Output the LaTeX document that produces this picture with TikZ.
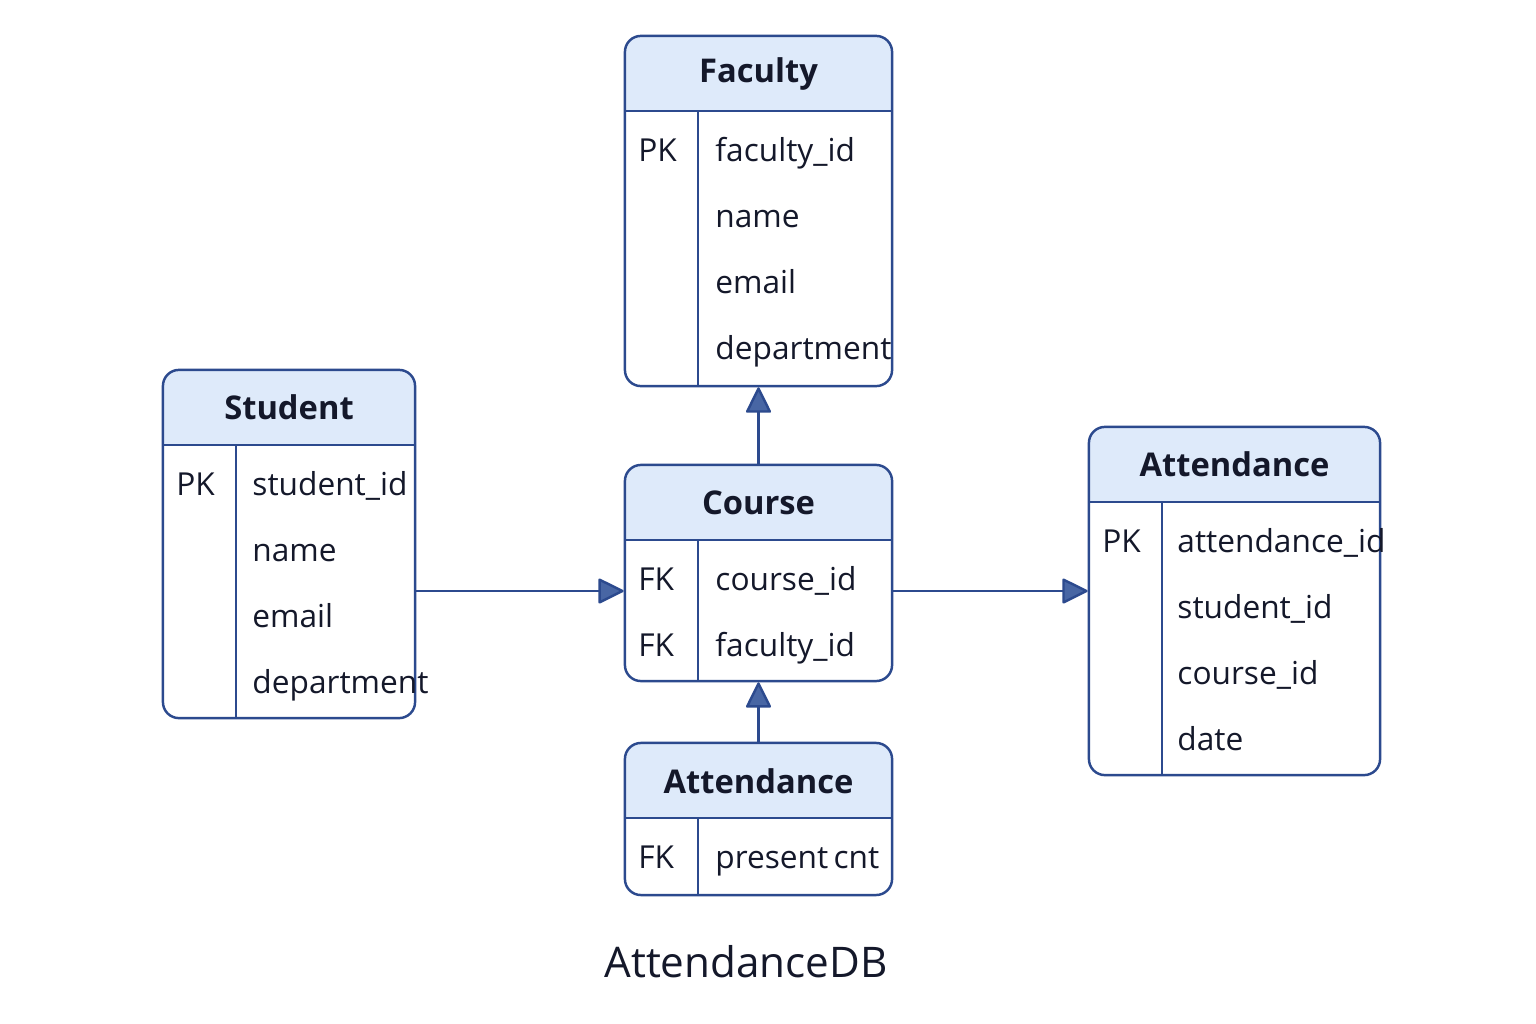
\documentclass[tikz,border=0pt]{standalone}
\usepackage{fontspec}
\setmainfont{Open Sans}
\usetikzlibrary{arrows.meta, positioning, calc}
\definecolor{entityblue}{RGB}{44,74,142}
\definecolor{headerblue}{RGB}{222,234,250}
\definecolor{arrowblue}{RGB}{72,102,164}
\definecolor{inkdark}{RGB}{20,24,42}

\begin{document}
\begin{tikzpicture}[
    x=0.01cm, y=-0.01cm,
    % Node Styles
    entity/.style={
        rectangle,
        draw=entityblue,
        line width=0.7pt,
        fill=white,
        rounded corners=0.16cm,
        inner sep=0pt,
        path picture={
            \fill[headerblue, sharp corners] (path picture bounding box.north west) rectangle ([yshift=-0.75cm]path picture bounding box.north east);
            \draw[entityblue, line width=0.7pt, sharp corners] ([yshift=-0.75cm]path picture bounding box.north west) -- ([yshift=-0.75cm]path picture bounding box.north east);
            \draw[entityblue, line width=0.7pt, sharp corners] ([xshift=0.73cm, yshift=-0.75cm]path picture bounding box.north west) -- ([xshift=0.73cm]path picture bounding box.south west);
        }
    },
    entitytitle/.style={
        font=\fontsize{9.3}{11}\selectfont\bfseries,
        text=inkdark,
        inner sep=0pt
    },
    keylabel/.style={
        anchor=base west,
        font=\fontsize{9}{11}\selectfont,
        text=inkdark,
        inner sep=0pt
    },
    fieldlabel/.style={
        anchor=base west,
        font=\fontsize{9}{11}\selectfont,
        text=inkdark,
        inner sep=0pt
    },
    relation/.style={
        draw=entityblue,
        line width=0.7pt,
        -{Triangle[width=0.26cm, length=0.27cm, round, fill=arrowblue]}
    },
    dbtitle/.style={
        font=\fontsize{12}{14}\selectfont,
        text=inkdark
    }
]
    \useasboundingbox (0,0) rectangle (1536,1024);

    % --- Faculty ---
    \node[entity, minimum width=2.67cm, minimum height=3.5cm] (faculty) at (758.5, 211) {};
    \node[entitytitle] (faculty-t) at ([yshift=-0.39cm]faculty.north) {Faculty};
    \node[keylabel] (faculty-k1) at ([xshift=0.14cm, yshift=-1.27cm]faculty.north west) {PK};
    \foreach \field [count=\i] in {faculty\_id, name, email, department}
        \node[fieldlabel] (faculty-f\i) at ([xshift=0.91cm, yshift={-1.27cm-(\i-1)*0.66cm}]faculty.north west) {\field};

    % --- Student ---
    \node[entity, minimum width=2.52cm, minimum height=3.48cm] (student) at (289, 544) {};
    \node[entitytitle] (student-t) at ([yshift=-0.39cm]student.north) {Student};
    \node[keylabel] (student-k1) at ([xshift=0.14cm, yshift=-1.27cm]student.north west) {PK};
    \foreach \field [count=\i] in {student\_id, name, email, department}
        \node[fieldlabel] (student-f\i) at ([xshift=0.9cm, yshift={-1.27cm-(\i-1)*0.66cm}]student.north west) {\field};

    % --- Course ---
    \node[entity, minimum width=2.67cm, minimum height=2.16cm] (course) at (758.5, 573) {};
    \node[entitytitle] (course-t) at ([yshift=-0.39cm]course.north) {Course};
    \foreach \field [count=\i] in {course\_id, faculty\_id} {
        \node[keylabel] (course-k\i) at ([xshift=0.14cm, yshift={-1.27cm-(\i-1)*0.66cm}]course.north west) {FK};
        \node[fieldlabel] (course-f\i) at ([xshift=0.91cm, yshift={-1.27cm-(\i-1)*0.66cm}]course.north west) {\field};
    }

    % --- Attendance (log) ---
    \node[entity, minimum width=2.91cm, minimum height=3.48cm] (attendance) at (1234.5, 601) {};
    \node[entitytitle] (attendance-t) at ([yshift=-0.39cm]attendance.north) {Attendance};
    \node[keylabel] (attendance-k1) at ([xshift=0.14cm, yshift=-1.27cm]attendance.north west) {PK};
    \foreach \field [count=\i] in {attendance\_id, student\_id, course\_id, date}
        \node[fieldlabel] (attendance-f\i) at ([xshift=0.89cm, yshift={-1.27cm-(\i-1)*0.66cm}]attendance.north west) {\field};

    % --- Attendance (summary) ---
    \node[entity, minimum width=2.67cm, minimum height=1.52cm] (attsummary) at (758.5, 819) {};
    \node[entitytitle] (attsummary-t) at ([yshift=-0.39cm]attsummary.north) {Attendance};
    \node[keylabel] (attsummary-k1) at ([xshift=0.14cm, yshift=-1.27cm]attsummary.north west) {FK};
    \node[fieldlabel] (attsummary-f1) at ([xshift=0.91cm, yshift=-1.27cm]attsummary.north west) {present\,cnt};

    % --- Relations ---
    \coordinate (cw) at ([yshift=-0.18cm]course.west);
    \coordinate (ce) at ([yshift=-0.18cm]course.east);
    \draw[relation] (course) -- (faculty);
    \draw[relation] (attsummary) -- (course);
    \draw[relation] (cw -| student.east) -- (cw);
    \draw[relation] (ce) -- (ce -| attendance.west);

    % --- Title Node ---
    \node[dbtitle] (dbname) at (746, 962) {AttendanceDB};

\end{tikzpicture}
\end{document}
